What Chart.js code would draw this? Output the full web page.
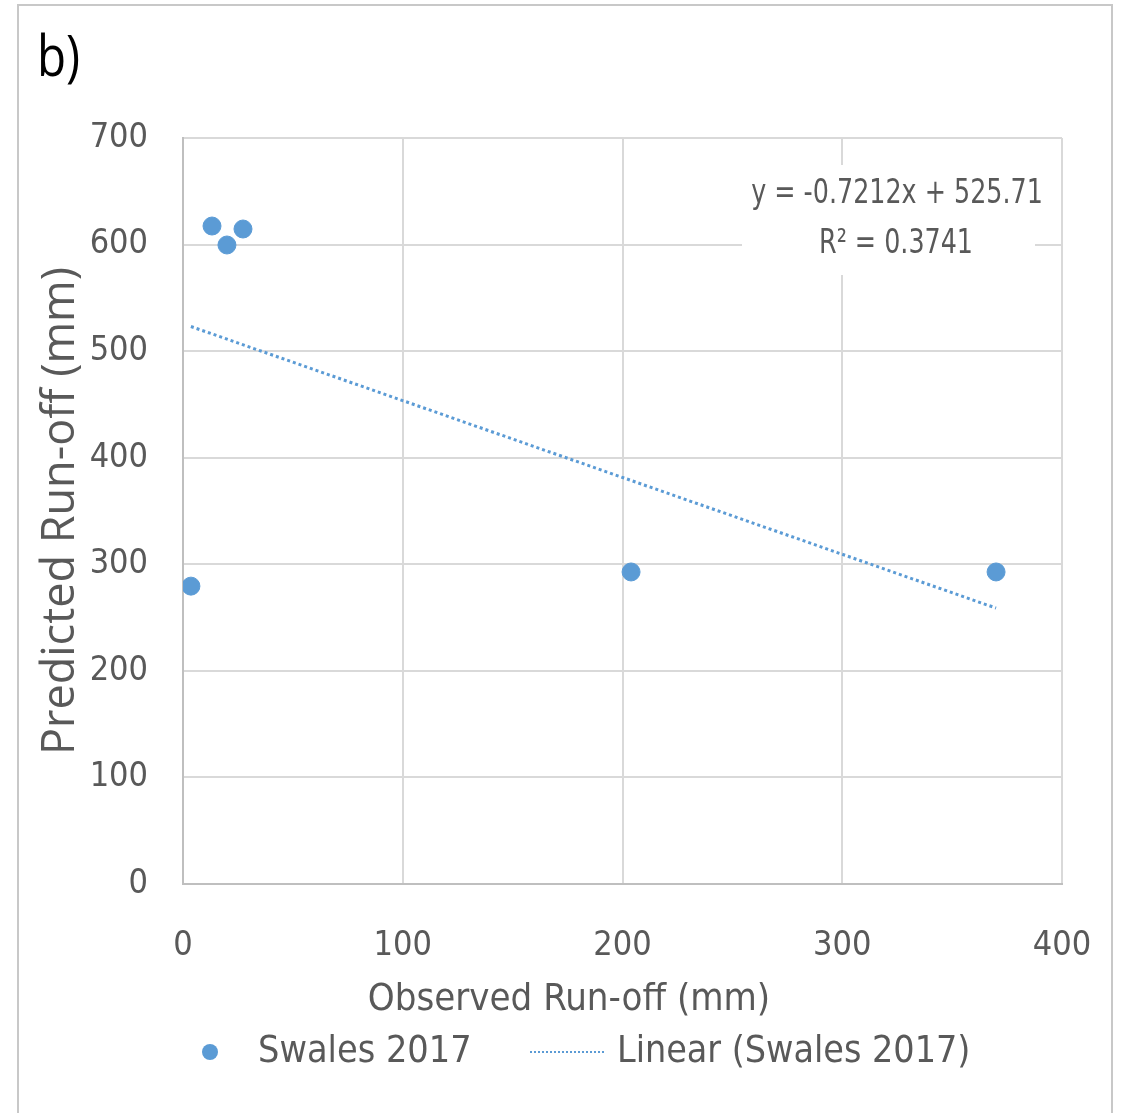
<!DOCTYPE html>
<html>
<head>
<meta charset="utf-8">
<script src="https://cdn.jsdelivr.net/npm/chart.js@4.4.1/dist/chart.umd.min.js"></script>
<style>
  html, body { margin: 0; padding: 0; background: #ffffff; }
  #wrap { width: 1123px; height: 1113px; }
</style>
</head>
<body>
<div id="wrap"><canvas id="chart" width="1123" height="1113"></canvas></div>
<script>
// --- data ---
const observedRunoff = [3.6, 13.2, 20, 27.3, 203.9, 370];
const predictedRunoff = [279.5, 617.4, 599.6, 614.6, 292.8, 292.8];
// linear trendline end points (from y = -0.7212x + 525.71)
const trendX = [3.6, 370];
const trendY = [523.1, 258.9];
const xTicks = [0, 100, 200, 300, 400];
const yTicks = [0, 100, 200, 300, 400, 500, 600, 700];

const seriesName = 'Swales 2017';
const trendName = 'Linear (Swales 2017)';
const equationLines = ['y = -0.7212x + 525.71', 'R\u00b2 = 0.3741'];

const BLUE = '#5b9bd5';
const TEXT = '#595959';
const NARROW = "'Liberation Sans Narrow', 'DejaVu Sans Condensed', sans-serif";

// draw text squeezed horizontally (the original uses a narrow font)
function squeezed(ctx, text, x, y, sx) {
  ctx.save();
  ctx.translate(x, y);
  ctx.scale(sx, 1);
  ctx.fillText(text, 0, 0);
  ctx.restore();
}

// --- extras: frame, panel letter, equation, x title, legend ---
const extrasPlugin = {
  id: 'extras',
  beforeDraw(chart) {
    const ctx = chart.ctx;
    ctx.save();
    ctx.strokeStyle = '#c8c8c8';
    ctx.lineWidth = 2;
    ctx.strokeRect(18, 5, 1094, 1200);
    ctx.restore();
  },
  afterDraw(chart) {
    const ctx = chart.ctx;
    ctx.save();

    // panel letter
    ctx.fillStyle = '#000000';
    ctx.font = "56px 'Open Sans', sans-serif";
    ctx.textAlign = 'left';
    ctx.textBaseline = 'alphabetic';
    squeezed(ctx, 'b)', 37, 76, 0.85);

    // equation box
    ctx.fillStyle = '#ffffff';
    ctx.fillRect(742, 165, 293, 110);
    ctx.fillStyle = TEXT;
    ctx.font = '34px ' + NARROW;
    ctx.textAlign = 'center';
    ctx.textBaseline = 'middle';
    squeezed(ctx, equationLines[0], 897, 194, 0.83);
    squeezed(ctx, equationLines[1], 896, 244, 0.83);

    // x axis title
    ctx.font = '38px ' + NARROW;
    squeezed(ctx, 'Observed Run-off (mm)', 569, 1000, 1.0);

    // legend
    const ly = 1052;
    ctx.fillStyle = BLUE;
    ctx.beginPath();
    ctx.arc(210, ly, 8, 0, Math.PI * 2);
    ctx.fill();
    ctx.fillStyle = TEXT;
    ctx.textAlign = 'left';
    ctx.font = '38px ' + NARROW;
    squeezed(ctx, seriesName, 258, ly, 0.985);
    ctx.strokeStyle = BLUE;
    ctx.lineWidth = 2;
    ctx.setLineDash([2, 2]);
    ctx.beginPath();
    ctx.moveTo(530, ly);
    ctx.lineTo(605, ly);
    ctx.stroke();
    ctx.setLineDash([]);
    squeezed(ctx, trendName, 617, ly, 0.98);

    ctx.restore();
  }
};

new Chart(document.getElementById('chart'), {
  type: 'scatter',
  data: {
    datasets: [
      {
        label: seriesName,
        data: observedRunoff.map((x, i) => ({ x: x, y: predictedRunoff[i] })),
        backgroundColor: BLUE,
        borderColor: BLUE,
        pointRadius: 9,
        pointHoverRadius: 9,
        order: 1
      },
      {
        label: trendName,
        type: 'line',
        data: trendX.map((x, i) => ({ x: x, y: trendY[i] })),
        borderColor: BLUE,
        borderWidth: 3,
        borderDash: [3, 3],
        pointRadius: 0,
        fill: false,
        order: 2
      }
    ]
  },
  options: {
    responsive: false,
    animation: false,
    devicePixelRatio: 1,
    layout: { padding: { left: 0, right: 61, top: 138, bottom: 0 } },
    plugins: {
      legend: { display: false },
      tooltip: { enabled: false }
    },
    scales: {
      x: {
        type: 'linear',
        min: 0,
        max: 400,
        afterFit: s => { s.height = 229; s.paddingLeft = 0; s.paddingRight = 0; },
        afterBuildTicks: s => { s.ticks = xTicks.map(v => ({ value: v })); },
        grid: { color: '#d9d9d9', lineWidth: 2, drawTicks: false },
        border: { color: '#bfbfbf', width: 2 },
        ticks: {
          color: TEXT,
          padding: 42,
          maxRotation: 0,
          font: { family: NARROW, size: 34 }
        }
      },
      y: {
        min: 0,
        max: 700,
        afterFit: s => { s.width = 183; s.paddingTop = 0; s.paddingBottom = 0; },
        afterBuildTicks: s => { s.ticks = yTicks.map(v => ({ value: v })); },
        grid: { color: '#d9d9d9', lineWidth: 2, drawTicks: false },
        border: { color: '#bfbfbf', width: 2 },
        ticks: {
          color: TEXT,
          padding: 35,
          font: { family: NARROW, size: 34 }
        },
        title: {
          display: true,
          text: 'Predicted Run-off (mm)',
          color: TEXT,
          padding: { top: 34, bottom: 0 },
          font: { family: "'Open Sans', sans-serif", size: 45 }
        }
      }
    }
  },
  plugins: [extrasPlugin]
});
</script>
</body>
</html>
